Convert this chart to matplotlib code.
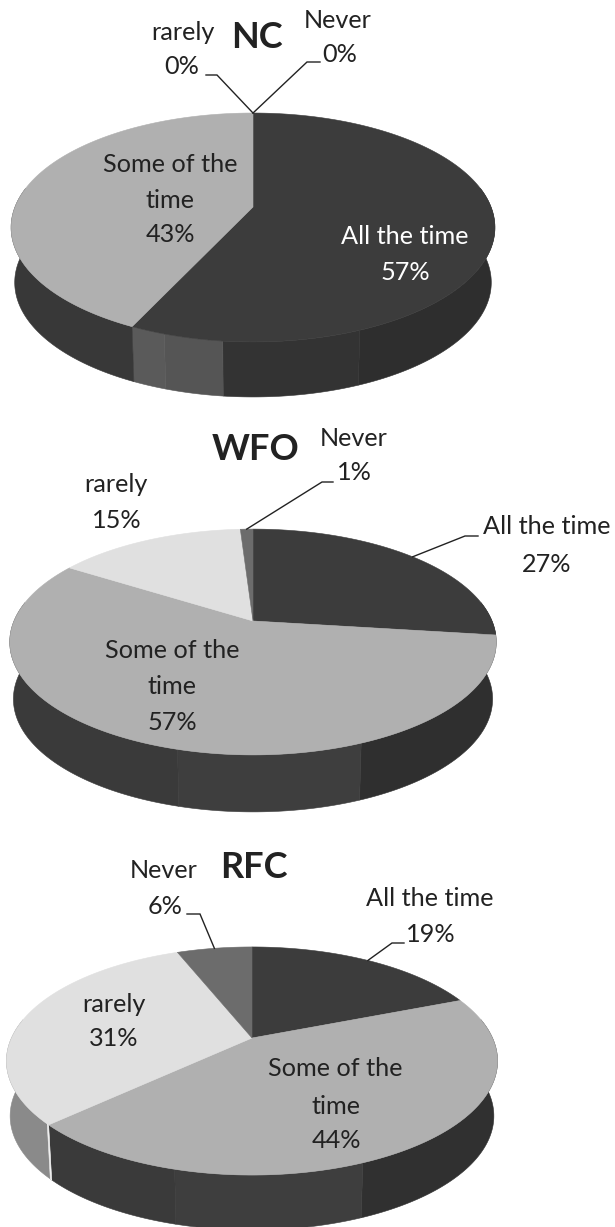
import numpy as np
import matplotlib
matplotlib.use('Agg')
import matplotlib.pyplot as plt
from matplotlib.patches import Polygon

plt.rcParams['font.family'] = ['Lato', 'DejaVu Sans']

# share of responses, clockwise from 12 o'clock
categories = ['All the time', 'Some of the time', 'rarely', 'Never']
nc_values = [57, 43, 0, 0]
wfo_values = [27, 57, 15, 1]
rfc_values = [19, 44, 31, 6]

colors = ['#3c3c3c', '#b0b0b0', '#e0e0e0', '#6c6c6c']


def project(t, geo, depth=0.0, shrink=1.0):
    # circle to screen with a simple perspective, far side smaller
    t = np.radians(t)
    u, v = np.sin(t), np.cos(t)
    w = 1 + geo['k'] * v
    x = geo['cx'] + shrink * geo['a'] * u / w
    y = geo['cy'] + depth - geo['b'] * v / w
    return x, y


def draw_pie(ax, values, geo, side_bands):
    # side wall first, the top disc covers the back of it
    for t0, t1, col in side_bands:
        t = np.linspace(t0, t1, 80)
        xt, yt = project(t, geo)
        xb, yb = project(t[::-1], geo, geo['depth'], 0.985)
        pts = np.column_stack([np.r_[xt, xb], np.r_[yt, yb]])
        ax.add_patch(Polygon(pts, closed=True, fc=col, ec=col, lw=0.4))

    edges = np.r_[0, np.cumsum(values)] * 3.6
    for i, val in enumerate(values):
        if val == 0:
            continue
        t = np.linspace(edges[i], edges[i + 1], 200)
        x, y = project(t, geo)
        pts = np.column_stack([np.r_[geo['cx'], x], np.r_[geo['cy'], y]])
        ax.add_patch(Polygon(pts, closed=True, fc=colors[i], ec=colors[i], lw=0.4))
    return edges


def leader(ax, values, idx, geo, x0, x1, y):
    # elbow line from the label to the middle of the slice on the rim
    edges = np.r_[0, np.cumsum(values)] * 3.6
    xe, ye = project((edges[idx] + edges[idx + 1]) / 2, geo)
    ax.plot([x0, x1, xe], [y, y, ye], color='#222222', lw=1.0, solid_joinstyle='miter')


def label(ax, x, y, s, color='#222222', size=18.2, weight='normal'):
    ax.text(x, y, s, ha='center', va='center', color=color, fontsize=size, fontweight=weight)


fig = plt.figure(figsize=(6.15, 12.27), dpi=100)
ax = fig.add_axes([0, 0, 1, 1])
ax.set_xlim(0, 615)
ax.set_ylim(1227, 0)
ax.axis('off')

# NC
nc_geo = dict(cx=253, cy=207, a=238, b=110.8, k=0.179, depth=55)
nc_bands = [(80, 158, '#2e2e2e'), (158, 186, '#333333'), (186, 198, '#555555'),
            (198, 205.2, '#5a5a5a'), (205.2, 280, '#383838')]
draw_pie(ax, nc_values, nc_geo, nc_bands)
leader(ax, [0, 100, 0, 0], 0, nc_geo, 206, 217, 75)
leader(ax, [0, 100, 0, 0], 0, nc_geo, 320, 307, 62)
label(ax, 257, 37, 'NC', size=26, weight='bold')
label(ax, 183, 33, 'rarely')
label(ax, 182, 67, '0%')
label(ax, 338, 20, 'Never')
label(ax, 340, 55, '0%')
label(ax, 170, 165, 'Some of the')
label(ax, 170, 201, 'time')
label(ax, 170, 235, '43%')
label(ax, 405, 236, 'All the time', color='white')
label(ax, 405, 272, '57%', color='white')

# WFO
wfo_geo = dict(cx=253, cy=621, a=239, b=109, k=0.186, depth=57)
wfo_bands = [(80, 158, '#2f2f2f'), (158, 195, '#3e3e3e'), (195, 280, '#3a3a3a')]
draw_pie(ax, wfo_values, wfo_geo, wfo_bands)
leader(ax, wfo_values, 3, wfo_geo, 333, 322, 482)
leader(ax, wfo_values, 0, wfo_geo, 478, 465, 536)
label(ax, 256, 450, 'WFO', size=26, weight='bold')
label(ax, 354, 438, 'Never')
label(ax, 354, 473, '1%')
label(ax, 116, 485, 'rarely')
label(ax, 117, 520, '15%')
label(ax, 547, 527, 'All the time')
label(ax, 547, 564, '27%')
label(ax, 172, 650, 'Some of the')
label(ax, 172, 686, 'time')
label(ax, 172, 722, '57%')

# RFC
rfc_geo = dict(cx=252, cy=1038, a=240.5, b=109.4, k=0.2017, depth=55)
rfc_bands = [(80, 158, '#303030'), (158, 195, '#3e3e3e'), (195, 226.8, '#3a3a3a'),
             (226.8, 280, '#8a8a8a'), (226.8, 227.3, '#f0f0f0')]
draw_pie(ax, rfc_values, rfc_geo, rfc_bands)
leader(ax, rfc_values, 3, rfc_geo, 187, 200, 914)
leader(ax, rfc_values, 0, rfc_geo, 404, 392, 943)
label(ax, 254, 868, 'RFC', size=26, weight='bold')
label(ax, 164, 870, 'Never')
label(ax, 165, 907, '6%')
label(ax, 430, 899, 'All the time')
label(ax, 431, 935, '19%')
label(ax, 114, 1004, 'rarely')
label(ax, 114, 1039, '31%')
label(ax, 335, 1069, 'Some of the')
label(ax, 336, 1106, 'time')
label(ax, 336, 1140, '44%')

fig.savefig('out.png', dpi=100, facecolor='white')
